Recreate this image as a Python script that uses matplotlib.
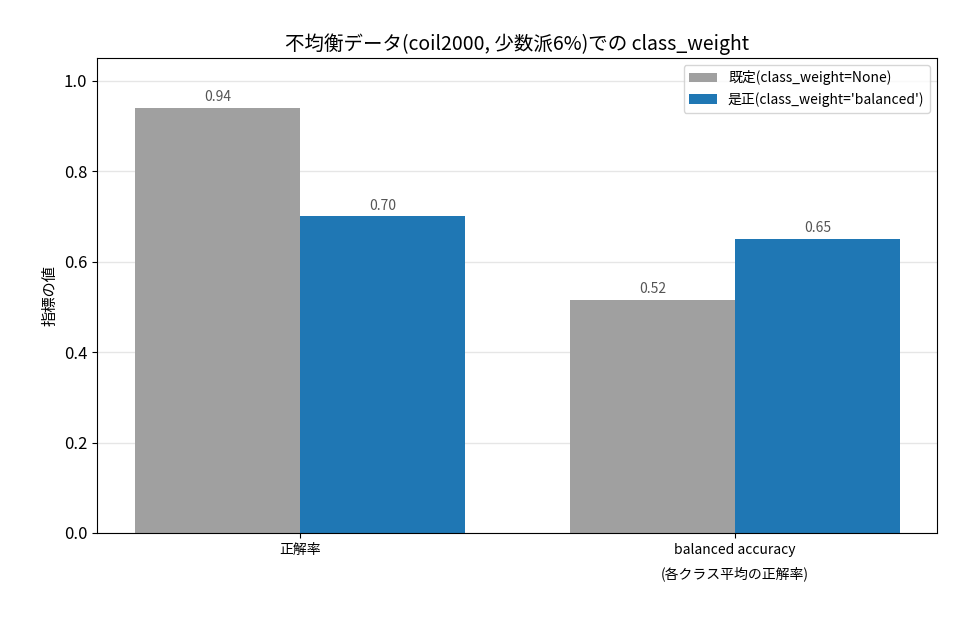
import matplotlib
matplotlib.use("Agg")
import matplotlib.pyplot as plt
import numpy as np

plt.rcParams['font.family'] = ['Noto Sans CJK JP', 'DejaVu Sans']

categories = ["正解率", "balanced accuracy\n(各クラス平均の正解率)"]
default_vals = [0.94, 0.515]
balanced_vals = [0.70, 0.65]
default_labels = ["0.94", "0.52"]
balanced_labels = ["0.70", "0.65"]

fig, ax = plt.subplots(figsize=(9.6, 6.3), dpi=100)
fig.subplots_adjust(left=0.101, right=0.976, top=0.908, bottom=0.154)

x = np.arange(len(categories))
w = 0.38
b1 = ax.bar(x - w / 2, default_vals, w, color="#a0a0a0", label="既定(class_weight=None)", zorder=2)
b2 = ax.bar(x + w / 2, balanced_vals, w, color="#1f77b4", label="是正(class_weight='balanced')", zorder=2)

for bars, labs in ((b1, default_labels), (b2, balanced_labels)):
    for bar, lab in zip(bars, labs):
        ax.text(bar.get_x() + bar.get_width() / 2, bar.get_height() + 0.008, lab,
                ha="center", va="bottom", fontsize=10, color="#555555")

ax.set_xticks(x)
ax.set_xticklabels(categories, fontsize=10, linespacing=1.8)
ax.set_xlim(-0.467, 1.464)
ax.set_ylim(0, 1.05)
ax.set_yticks(np.arange(0, 1.01, 0.2))
ax.tick_params(axis="y", labelsize=12)
ax.set_ylabel("指標の値", fontsize=11)
ax.set_title("不均衡データ(coil2000, 少数派6%)での class_weight", fontsize=14)
ax.grid(axis="y", color="#e6e6e6", linewidth=1, zorder=0)
ax.legend(loc="upper right", fontsize=10)

fig.savefig("out.png", dpi=100)
